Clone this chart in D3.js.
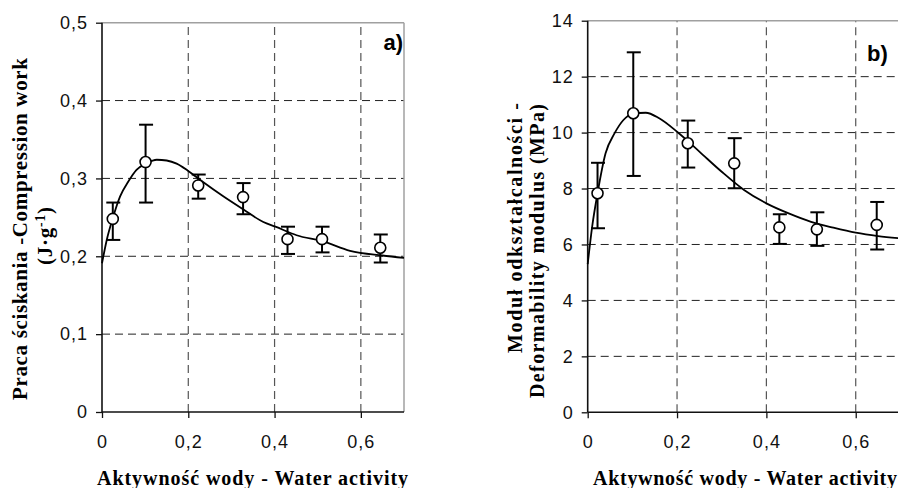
<!DOCTYPE html>
<html>
<head>
<meta charset="utf-8">
<script src="https://cdn.jsdelivr.net/npm/d3@7"></script>
<style>
  body { margin: 0; background: #fff; }
  svg { display: block; }
</style>
</head>
<body>
<svg id="chart" width="898" height="488"></svg>
<script>
// shared x axis
var xTicks = [0, 0.2, 0.4, 0.6];

// panel a) compression work
var awA = [0.025, 0.101, 0.223, 0.327, 0.430, 0.510, 0.645];
var workA = [0.248, 0.321, 0.291, 0.276, 0.222, 0.222, 0.211];
var workHiA = [0.269, 0.369, 0.305, 0.294, 0.238, 0.238, 0.228];
var workLoA = [0.221, 0.269, 0.274, 0.254, 0.203, 0.205, 0.192];
var fitXA = [0, 0.011, 0.025, 0.042, 0.061, 0.080, 0.102, 0.127, 0.150, 0.173, 0.199, 0.235, 0.281, 0.328, 0.374, 0.402, 0.451, 0.513, 0.575, 0.65, 0.7];
var fitYA = [0.191, 0.221, 0.249, 0.277, 0.296, 0.311, 0.319, 0.324, 0.323, 0.319, 0.310, 0.295, 0.277, 0.260, 0.244, 0.238, 0.227, 0.219, 0.207, 0.201, 0.198];
var yTicksA = [0, 0.1, 0.2, 0.3, 0.4, 0.5];

// panel b) deformability modulus
var awB = [0.022, 0.102, 0.224, 0.328, 0.429, 0.513, 0.647];
var modB = [7.83, 10.69, 9.62, 8.90, 6.61, 6.54, 6.70];
var modHiB = [8.92, 12.87, 10.43, 9.80, 7.08, 7.15, 7.52];
var modLoB = [6.58, 8.45, 8.75, 8.01, 6.02, 5.95, 5.82];
var fitXB = [0, 0.01, 0.022, 0.04, 0.06, 0.08, 0.10, 0.13, 0.16, 0.20, 0.25, 0.30, 0.35, 0.40, 0.45, 0.50, 0.55, 0.60, 0.65, 0.70];
var fitYB = [5.3, 6.64, 7.83, 9.26, 9.97, 10.45, 10.67, 10.71, 10.51, 10.03, 9.32, 8.60, 7.95, 7.47, 7.11, 6.81, 6.60, 6.42, 6.30, 6.22];
var yTicksB = [0, 2, 4, 6, 8, 10, 12, 14];

var svg = d3.select("#chart");
var numFont = "'Liberation Sans', Arial, sans-serif";
var titleFont = "'Liberation Serif', 'Times New Roman', serif";

function commaFmt(d) {
  return d === 0 ? "0" : d3.format(".1f")(d).replace(".", ",");
}

function panel(opt) {
  var g = svg.append("g");
  var x = d3.scaleLinear().domain([0, 0.7]).range(opt.xRange);
  var y = d3.scaleLinear().domain(opt.yDomain).range(opt.yRange);
  var x0 = opt.xRange[0], x1 = opt.xRange[1], y0 = opt.yRange[0], y1 = opt.yRange[1];

  // grid
  g.append("g").selectAll("line").data(opt.yTicks.slice(1, -1)).join("line")
    .attr("x1", x0).attr("x2", x1)
    .attr("y1", d => y(d)).attr("y2", d => y(d))
    .attr("stroke", "#222").attr("stroke-width", 1).attr("stroke-dasharray", "8,5");
  g.append("g").selectAll("line").data(xTicks.slice(1)).join("line")
    .attr("x1", d => x(d)).attr("x2", d => x(d))
    .attr("y1", y0).attr("y2", y1)
    .attr("stroke", "#555").attr("stroke-width", 1.2).attr("stroke-dasharray", "8,5");

  // frame top / right
  g.append("line").attr("x1", x0).attr("x2", x1).attr("y1", y1).attr("y2", y1)
    .attr("stroke", "#a0a0a0").attr("stroke-width", 1.5);
  g.append("line").attr("x1", x1).attr("x2", x1).attr("y1", y1).attr("y2", y0)
    .attr("stroke", "#a0a0a0").attr("stroke-width", 1.5);

  // axes
  var ya = g.append("g").attr("transform", "translate(" + x0 + ",0)")
    .call(d3.axisLeft(y).tickValues(opt.yTicks).tickSize(6).tickPadding(8).tickFormat(opt.yFmt));
  var xa = g.append("g").attr("transform", "translate(0," + y0 + ")")
    .call(d3.axisBottom(x).tickValues(xTicks).tickSize(6).tickPadding(17).tickFormat(commaFmt));
  [ya, xa].forEach(function(a) {
    a.select(".domain").attr("stroke", "#111").attr("stroke-width", 1.6);
    a.selectAll(".tick line").attr("stroke", "#111").attr("stroke-width", 1.3);
    a.selectAll("text").attr("font-family", numFont).attr("font-size", 18)
      .attr("letter-spacing", 1).attr("fill", "#111");
  });
  xa.select(".domain").attr("d", "M" + x0 + ",0H" + x1);
  ya.select(".domain").attr("d", "M0," + y0 + "V" + y1);

  // fitted curve
  var fit = opt.fitX.map((v, i) => [v, opt.fitY[i]]);
  g.append("path").datum(fit)
    .attr("fill", "none").attr("stroke", "#000").attr("stroke-width", 1.8)
    .attr("d", d3.line().x(d => x(d[0])).y(d => y(d[1])).curve(d3.curveMonotoneX));

  // error bars
  var pts = opt.px.map((v, i) => ({ x: v, y: opt.py[i], hi: opt.hi[i], lo: opt.lo[i] }));
  var eb = g.append("g").attr("stroke", "#000").attr("stroke-width", 2);
  eb.selectAll(".stem").data(pts).join("line")
    .attr("x1", d => x(d.x)).attr("x2", d => x(d.x))
    .attr("y1", d => y(d.hi)).attr("y2", d => y(d.lo));
  eb.selectAll(".cap").data(pts.flatMap(d => [[d.x, d.hi], [d.x, d.lo]])).join("line")
    .attr("x1", d => x(d[0]) - 6.5).attr("x2", d => x(d[0]) + 7.5)
    .attr("y1", d => y(d[1])).attr("y2", d => y(d[1]));

  // markers
  g.append("g").selectAll("circle").data(pts).join("circle")
    .attr("cx", d => x(d.x)).attr("cy", d => y(d.y)).attr("r", 5.5)
    .attr("fill", "#fff").attr("stroke", "#000").attr("stroke-width", 1.6);

  // panel tag
  g.append("text").attr("x", opt.tag.x).attr("y", opt.tag.y)
    .attr("text-anchor", opt.tag.anchor)
    .attr("font-family", numFont).attr("font-weight", "bold").attr("font-size", 22)
    .text(opt.tag.text);

  // x title
  g.append("text").attr("x", opt.xTitle.x).attr("y", 485)
    .attr("font-family", titleFont).attr("font-weight", "bold").attr("font-size", 20)
    .attr("textLength", opt.xTitle.len).attr("lengthAdjust", "spacing")
    .text("Aktywność wody - Water activity");

  // y title lines
  opt.yTitle.forEach(function(t) {
    var txt = g.append("text")
      .attr("transform", "translate(" + t.x + "," + t.y + ") rotate(-90)")
      .attr("text-anchor", "middle")
      .attr("font-family", titleFont).attr("font-weight", "bold").attr("font-size", t.size)
      .attr("textLength", t.len).attr("lengthAdjust", "spacing");
    if (t.sup) {
      txt.append("tspan").text(t.text);
      txt.append("tspan").attr("dy", -7).attr("font-size", t.size * 0.65).text(t.sup);
      txt.append("tspan").attr("dy", 7).text(")");
    } else {
      txt.text(t.text);
    }
  });
}

panel({
  xRange: [102, 404], yRange: [412, 22.7], yDomain: [0, 0.5],
  yTicks: yTicksA, yFmt: commaFmt,
  fitX: fitXA, fitY: fitYA,
  px: awA, py: workA, hi: workHiA, lo: workLoA,
  tag: { text: "a)", x: 403, y: 50, anchor: "end" },
  xTitle: { x: 97, len: 311 },
  yTitle: [
    { text: "Praca ściskania -Compression work", x: 27, y: 229, len: 342, size: 21 },
    { text: "(J·g", sup: "-1", x: 52, y: 236, len: 58, size: 21 }
  ]
});

panel({
  xRange: [587.7, 900.4], yRange: [412.3, 20.7], yDomain: [0, 14],
  yTicks: yTicksB, yFmt: d3.format("d"),
  fitX: fitXB, fitY: fitYB,
  px: awB, py: modB, hi: modHiB, lo: modLoB,
  tag: { text: "b)", x: 867, y: 61, anchor: "start" },
  xTitle: { x: 593, len: 304 },
  yTitle: [
    { text: "Moduł odkształcalności -", x: 521.5, y: 228, len: 250, size: 20 },
    { text: "Deformability modulus  (MPa)", x: 543.5, y: 251, len: 294, size: 20 }
  ]
});
</script>
</body>
</html>
